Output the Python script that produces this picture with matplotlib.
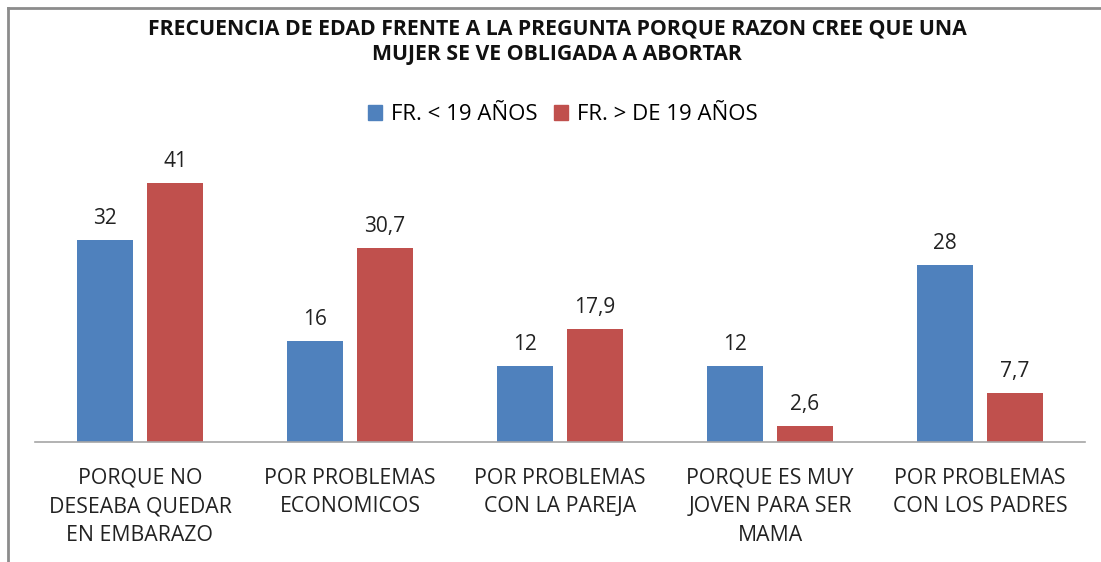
import matplotlib.pyplot as plt
import numpy as np
from matplotlib.lines import Line2D

plt.rcParams['font.family'] = ['Open Sans', 'DejaVu Sans']

# Data
categorias = ['PORQUE NO\nDESEABA QUEDAR\nEN EMBARAZO',
              'POR PROBLEMAS\nECONOMICOS',
              'POR PROBLEMAS\nCON LA PAREJA',
              'PORQUE ES MUY\nJOVEN PARA SER\nMAMA',
              'POR PROBLEMAS\nCON LOS PADRES']
menores_19 = [32, 16, 12, 12, 28]
mayores_19 = [41, 30.7, 17.9, 2.6, 7.7]
series_labels = ['FR. < 19 AÑOS', 'FR. > DE 19 AÑOS']
titulo = 'FRECUENCIA DE EDAD FRENTE A LA PREGUNTA PORQUE RAZON CREE QUE UNA\nMUJER SE VE OBLIGADA A ABORTAR'

azul = '#4f81bd'
rojo = '#c0504d'

fig = plt.figure(figsize=(11.01, 5.62), dpi=100)
ax = fig.add_axes([35 / 1101, 120 / 562, 1050 / 1101, 284 / 562])

x = np.arange(len(categorias))
w = 56 / 210
off = 35 / 210
b1 = ax.bar(x - off, menores_19, w, color=azul, label=series_labels[0])
b2 = ax.bar(x + off, mayores_19, w, color=rojo, label=series_labels[1])

fmt = lambda v: ('%g' % v).replace('.', ',')
for bars, vals in ((b1, menores_19), (b2, mayores_19)):
    for r, v in zip(bars, vals):
        ax.annotate(fmt(v), (r.get_x() + r.get_width() / 2, v), xytext=(0, 15.5),
                    textcoords='offset points', ha='center', va='center',
                    fontsize=15, color='#222222')

ax.set_xlim(-0.5, len(categorias) - 0.5)
ax.set_ylim(0, 45)
ax.set_yticks([])
ax.set_xticks(x)
ax.set_xticklabels(categorias, fontsize=15.3, color='#222222', linespacing=1.47)
ax.tick_params(axis='x', length=0, pad=18.5)
for s in ['top', 'right', 'left']:
    ax.spines[s].set_visible(False)
ax.spines['bottom'].set_color('#a6a6a6')
ax.spines['bottom'].set_linewidth(1.2)

fig.text(557 / 1101, 1 - 42 / 562, titulo, ha='center', va='center',
         fontsize=15.3, fontweight='bold', color='#111111', linespacing=1.3)

handles = [plt.Rectangle((0, 0), 1, 1, color=azul), plt.Rectangle((0, 0), 1, 1, color=rojo)]
fig.legend(handles, series_labels, loc='center', bbox_to_anchor=(563 / 1101, 1 - 115 / 562),
           ncol=2, frameon=False, fontsize=16, handlelength=0.62, handleheight=0.62,
           handletextpad=0.42, columnspacing=0.75, borderpad=0)

# chart frame
fig.add_artist(Line2D([8 / 1101, 8 / 1101], [0, 1 - 8 / 562], transform=fig.transFigure,
                      color='#8c8c8c', lw=2))
fig.add_artist(Line2D([8 / 1101, 1], [1 - 8 / 562, 1 - 8 / 562], transform=fig.transFigure,
                      color='#8c8c8c', lw=2))

fig.savefig('out.png', dpi=100)
